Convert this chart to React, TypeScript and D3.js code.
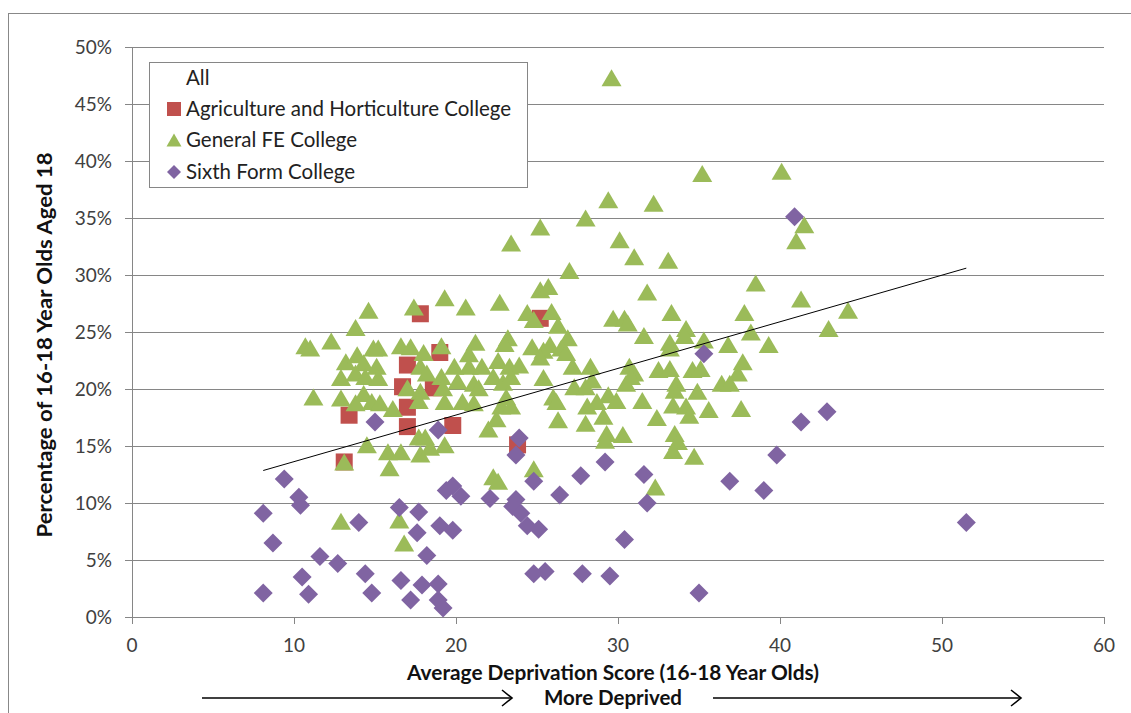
import * as d3 from 'd3'

// values: [deprivation score, % aged 18]
const agriculture: [number, number][] = [
  [17.8, 26.6], [25.2, 26.2], [19.0, 23.2], [17.0, 22.1], [16.7, 20.2], [18.6, 20.1],
  [13.4, 17.7], [17.0, 18.4], [17.0, 16.7], [19.8, 16.8], [13.1, 13.6], [23.8, 15.1],
]

const generalFE: [number, number][] = [
  [29.6, 47.3], [40.1, 39.1], [35.2, 38.9], [29.4, 36.6], [32.2, 36.3], [28.0, 35.0],
  [25.2, 34.2], [41.5, 34.4], [41.0, 33.0], [30.1, 33.1], [23.4, 32.8], [31.0, 31.6],
  [33.1, 31.3], [27.0, 30.4], [38.5, 29.3], [25.2, 28.7], [25.7, 29.0], [31.8, 28.5],
  [41.3, 27.9], [19.3, 28.0], [44.2, 26.9], [43.0, 25.3], [14.6, 26.9], [17.4, 27.2],
  [20.6, 27.2], [22.7, 27.6], [24.4, 26.7], [24.8, 26.1], [25.9, 26.8], [26.3, 25.6],
  [26.9, 24.5], [29.7, 26.2], [30.4, 26.2], [30.6, 25.8], [33.3, 26.7], [34.2, 25.3],
  [34.1, 24.7], [37.8, 26.7], [38.2, 25.0], [35.3, 24.3], [36.8, 23.9], [39.3, 23.9],
  [31.6, 24.7], [33.2, 24.1], [33.2, 23.6], [13.8, 25.4], [10.7, 23.8], [11.0, 23.6],
  [12.3, 24.2], [14.9, 23.6], [15.2, 23.6], [16.6, 23.8], [17.2, 23.7], [18.0, 23.2],
  [19.1, 23.8], [21.2, 24.1], [20.8, 23.1], [23.2, 24.5], [23.0, 24.0], [24.7, 23.7],
  [25.4, 23.4], [25.8, 23.9], [26.5, 23.6], [26.8, 23.2], [13.2, 22.4], [13.9, 23.0],
  [14.3, 22.3], [15.1, 22.0], [17.8, 22.0], [18.2, 21.4], [19.9, 22.0], [20.8, 22.0],
  [21.6, 22.0], [22.6, 22.5], [23.3, 22.0], [23.9, 22.1], [25.2, 22.8], [27.2, 22.0],
  [28.3, 22.0], [30.7, 22.0], [31.0, 21.4], [32.5, 21.7], [33.2, 21.8], [34.6, 21.7],
  [35.1, 21.8], [37.7, 22.4], [37.4, 21.4], [12.9, 21.0], [13.8, 21.4], [14.4, 21.1],
  [15.2, 21.0], [19.1, 21.1], [20.1, 20.7], [21.1, 20.5], [22.3, 21.1], [22.9, 20.6],
  [23.4, 21.1], [25.4, 21.0], [27.3, 20.2], [28.0, 20.2], [28.4, 20.8], [29.4, 19.5],
  [30.5, 20.5], [30.8, 21.1], [31.5, 19.0], [33.6, 20.5], [33.5, 19.9], [34.9, 19.8],
  [36.4, 20.5], [36.9, 20.5], [33.4, 18.6], [34.2, 18.5], [34.4, 17.7], [35.6, 18.2],
  [37.6, 18.3], [11.2, 19.3], [12.9, 19.2], [13.8, 18.8], [14.3, 19.6], [14.8, 18.9],
  [15.3, 18.8], [16.1, 18.3], [17.0, 20.1], [17.8, 19.8], [19.2, 20.1], [21.4, 20.1],
  [17.7, 19.0], [19.3, 18.9], [20.4, 18.9], [21.1, 18.8], [22.8, 18.5], [23.4, 18.5],
  [23.1, 19.3], [26.0, 19.3], [26.2, 18.9], [28.1, 18.5], [28.7, 18.9], [29.9, 19.0],
  [26.3, 17.3], [32.4, 17.5], [22.5, 17.4], [22.0, 16.5], [28.0, 17.0], [29.1, 17.6],
  [29.3, 16.1], [29.2, 15.5], [30.3, 16.0], [33.5, 16.1], [33.7, 15.4], [33.4, 14.6],
  [34.7, 14.1], [19.3, 15.1], [14.5, 15.1], [15.8, 14.5], [16.6, 14.5], [17.8, 14.3],
  [18.4, 14.9], [17.7, 15.8], [18.1, 15.8], [13.1, 13.6], [15.9, 13.1], [22.3, 12.3],
  [22.6, 11.9], [24.8, 13.0], [32.3, 11.4], [12.9, 8.4], [16.5, 8.5], [16.8, 6.5],
]

const sixthForm: [number, number][] = [
  [40.9, 35.1], [35.3, 23.1], [15.0, 17.1], [18.9, 16.4], [42.9, 18.0], [41.3, 17.1],
  [23.9, 15.7], [23.7, 14.2], [39.8, 14.2], [29.2, 13.6], [31.6, 12.5], [27.7, 12.4],
  [9.4, 12.1], [24.8, 11.9], [36.9, 11.9], [19.8, 11.5], [19.4, 11.1], [39.0, 11.1],
  [26.4, 10.7], [20.3, 10.6], [10.3, 10.5], [22.1, 10.4], [23.7, 10.3], [31.8, 10.0],
  [10.4, 9.8], [23.5, 9.7], [16.5, 9.6], [17.7, 9.2], [8.1, 9.1], [24.0, 9.1],
  [14.0, 8.3], [51.5, 8.3], [19.0, 8.0], [24.4, 8.0], [25.1, 7.7], [19.8, 7.6],
  [17.6, 7.4], [30.4, 6.8], [8.7, 6.5], [18.2, 5.4], [11.6, 5.3], [12.7, 4.7],
  [25.5, 4.0], [14.4, 3.8], [24.8, 3.8], [27.8, 3.8], [29.5, 3.6], [10.5, 3.5],
  [16.6, 3.2], [18.9, 2.9], [17.9, 2.8], [8.1, 2.1], [35.0, 2.1], [14.8, 2.1],
  [10.9, 2.0], [17.2, 1.5], [18.9, 1.5], [19.2, 0.8],
]

// linear trendline of "All", endpoints
const trendX = [8.1, 51.5]
const trendY = [12.85, 30.6]

const xTicks = [0, 10, 20, 30, 40, 50, 60]
const yTicks = [0, 5, 10, 15, 20, 25, 30, 35, 40, 45, 50]
const legendLabels = ['All', 'Agriculture and Horticulture College', 'General FE College', 'Sixth Form College']

const RED = '#C0504D'
const GREEN = '#9BBB59'
const PURPLE = '#8064A2'
const GRID = '#868686'
const FONT = 'Lato, "Open Sans", sans-serif'

const square = (s: number) => `M${-s / 2},${-s / 2}h${s}v${s}h${-s}Z`
const triangle = (w: number, h: number) => `M0,${-h / 2}L${w / 2},${h / 2}L${-w / 2},${h / 2}Z`
const diamond = (r: number) => `M0,${-r}L${r},0L0,${r}L${-r},0Z`

const App = () => {
  const width = 1131
  const height = 713

  const x = d3.scaleLinear().domain([0, 60]).range([132, 1104])
  const y = d3.scaleLinear().domain([0, 50]).range([617, 47])

  const trendLine = d3.line<number>()
    .x((d) => x(d))
    .y((_, i) => y(trendY[i]))

  const legendY = [78, 109, 140, 172]

  return (
    <div style={{ position: 'absolute', left: 0, top: 0 }}>
      <svg width={width} height={height} style={{ display: 'block', background: '#fff' }} fontFamily={FONT}>
        <rect x={8.5} y={13.5} width={1140} height={720} fill="none" stroke="#888" />

        {/* grid lines */}
        {yTicks.filter((t) => t > 0).map((t) => (
          <line key={t} x1={x(0)} x2={x(60)} y1={Math.round(y(t)) + 0.5} y2={Math.round(y(t)) + 0.5} stroke={GRID} />
        ))}

        {/* axes */}
        <line x1={x(0) + 0.5} x2={x(0) + 0.5} y1={y(50)} y2={y(0)} stroke={GRID} />
        <line x1={x(0)} x2={x(60)} y1={Math.round(y(0)) + 0.5} y2={Math.round(y(0)) + 0.5} stroke={GRID} />
        {yTicks.map((t) => (
          <g key={t}>
            <line x1={x(0) - 7} x2={x(0)} y1={Math.round(y(t)) + 0.5} y2={Math.round(y(t)) + 0.5} stroke={GRID} />
            <text x={112} y={y(t)} dy="0.35em" textAnchor="end" fontSize={19} fill="#404040">{`${t}%`}</text>
          </g>
        ))}
        {xTicks.map((t) => (
          <g key={t}>
            <line x1={Math.round(x(t)) + 0.5} x2={Math.round(x(t)) + 0.5} y1={y(0)} y2={y(0) + 7} stroke={GRID} />
            <text x={x(t)} y={645} dy="0.35em" textAnchor="middle" fontSize={19} fill="#404040">{t}</text>
          </g>
        ))}

        {/* series */}
        <g fill={RED}>
          {agriculture.map(([a, b], i) => (
            <path key={i} d={square(17)} transform={`translate(${x(a)},${y(b)})`} />
          ))}
        </g>
        <g fill={GREEN}>
          {generalFE.map(([a, b], i) => (
            <path key={i} d={triangle(20, 17)} transform={`translate(${x(a)},${y(b)})`} />
          ))}
        </g>
        <g fill={PURPLE}>
          {sixthForm.map(([a, b], i) => (
            <path key={i} d={diamond(9.5)} transform={`translate(${x(a)},${y(b)})`} />
          ))}
        </g>

        <path d={trendLine(trendX) ?? ''} fill="none" stroke="#000" strokeWidth={1} />

        {/* legend */}
        <rect x={149.5} y={62.5} width={378} height={125} fill="#fff" stroke={GRID} />
        {legendLabels.map((label, i) => (
          <text key={label} x={186} y={legendY[i]} dy="0.35em" fontSize={20.5} fill="#222">{label}</text>
        ))}
        <path d={square(14)} transform={`translate(174,${legendY[1]})`} fill={RED} />
        <path d={triangle(15, 13)} transform={`translate(174,${legendY[2]})`} fill={GREEN} />
        <path d={diamond(7)} transform={`translate(174,${legendY[3]})`} fill={PURPLE} />

        {/* axis titles */}
        <text x={613} y={673} dy="0.35em" textAnchor="middle" fontSize={20} fontWeight="bold" fill="#111"
          textLength={412} lengthAdjust="spacingAndGlyphs">
          Average Deprivation Score (16-18 Year Olds)
        </text>
        <text transform="translate(45,345) rotate(-90)" dy="0.35em" textAnchor="middle" fontSize={20} fontWeight="bold" fill="#111"
          textLength={385} lengthAdjust="spacingAndGlyphs">
          Percentage of 16-18 Year Olds Aged 18
        </text>
        <text x={613} y={698} dy="0.35em" textAnchor="middle" fontSize={20} fontWeight="bold" fill="#111"
          textLength={138} lengthAdjust="spacingAndGlyphs">
          More Deprived
        </text>

        {/* arrows */}
        <g stroke="#000" strokeWidth={1.6} fill="none">
          <line x1={202} x2={512} y1={698} y2={698} />
          <path d="M502,690L512,698L502,706" />
          <line x1={713} x2={1021} y1={698} y2={698} />
          <path d="M1011,690L1021,698L1011,706" />
        </g>
      </svg>
    </div>
  )
}

export default App
